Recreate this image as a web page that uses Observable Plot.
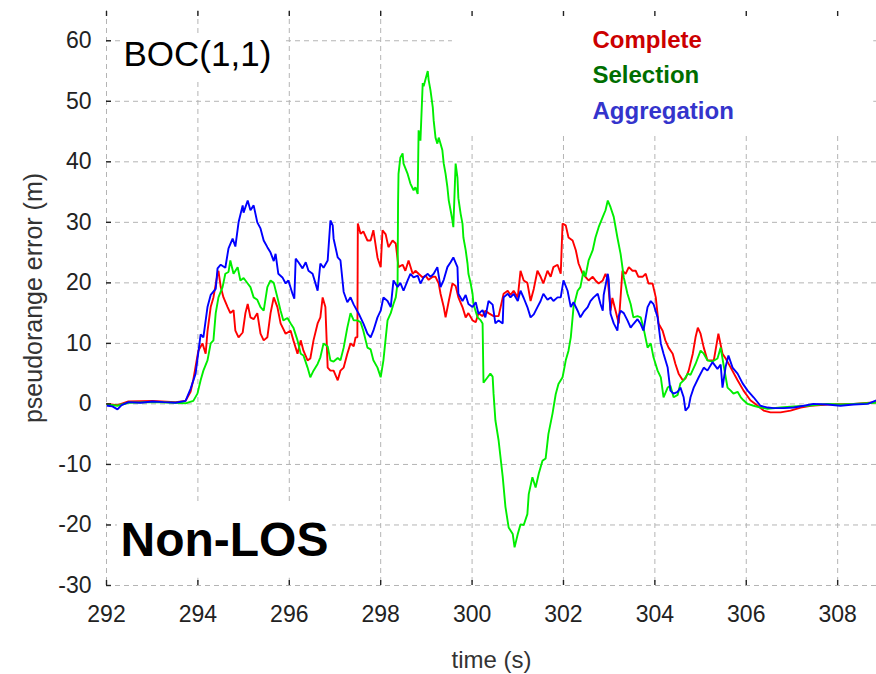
<!DOCTYPE html>
<html>
<head>
<meta charset="utf-8">
<script src="https://cdn.jsdelivr.net/npm/d3@7"></script>
<script src="https://cdn.jsdelivr.net/npm/@observablehq/plot@0.6"></script>
<style>
  html, body { margin: 0; padding: 0; background: #ffffff; }
</style>
</head>
<body>
<div id="chart"></div>
<script>
// ---- data: [time (s), pseudorange error (m)] ----
const complete = [
  [292.02,0],[292.24,-0.2],[292.48,0.4],[293.01,0.5],[293.51,0.3],[293.73,0.5],[293.84,2.0],[293.90,4],
  [294.01,8.8],[294.10,10],[294.17,8.3],[294.21,12],[294.28,16],[294.34,17.6],[294.43,21.5],[294.45,22],
  [294.50,19.3],[294.56,17.6],[294.65,16],[294.71,15],[294.78,15.5],[294.82,12.1],[294.89,11],[294.98,11.8],
  [295.04,15],[295.09,16.5],[295.15,14.3],[295.22,14],[295.30,15],[295.37,11.6],[295.44,10.5],[295.52,11],
  [295.59,15],[295.66,17.6],[295.74,16],[295.81,13.3],[295.92,11.6],[296.03,12.1],[296.09,10.5],[296.18,8.3],
  [296.25,10.5],[296.31,8.8],[296.40,7.2],[296.46,7.5],[296.53,10.5],[296.62,13.3],[296.68,14.3],[296.73,17.6],
  [296.79,16],[296.84,6],[296.90,5.5],[296.97,5.5],[297.06,3.9],[297.12,5.5],[297.19,6],[297.27,8.3],
  [297.34,10],[297.41,9.5],[297.45,11],[297.49,11],[297.50,29.8],[297.56,28.1],[297.62,28.5],[297.71,27],
  [297.78,27],[297.84,28.7],[297.93,24.2],[297.95,23.7],[298.00,22.6],[298.04,28.7],[298.11,28],[298.17,25.9],
  [298.26,27],[298.33,26.5],[298.39,22.6],[298.48,23],[298.54,22],[298.61,23.7],[298.70,21.5],[298.76,22],
  [298.83,21.5],[298.92,20.9],[298.98,21.2],[299.05,20.5],[299.14,21],[299.20,21],[299.27,19.9],[299.31,18.2],
  [299.38,16],[299.42,14.3],[299.49,17],[299.57,19.9],[299.64,19.5],[299.70,17.6],[299.79,16],[299.86,14.3],
  [299.92,15],[300.01,13.8],[300.08,13.5],[300.14,15],[300.23,14.5],[300.29,15.4],[300.36,15],[300.47,14.5],
  [300.58,14.5],[300.69,18.2],[300.78,18.7],[300.84,18],[300.91,18.7],[301.00,17.6],[301.06,22],[301.13,20.4],
  [301.21,20],[301.28,17],[301.35,19],[301.43,22],[301.50,21],[301.56,19.9],[301.65,22],[301.72,21],
  [301.78,22.6],[301.87,23],[301.94,21.5],[301.98,29.8],[302.05,29.5],[302.11,27.5],[302.20,27],[302.27,25.4],
  [302.33,23.2],[302.42,21.5],[302.48,21],[302.55,20.4],[302.64,21],[302.70,20.4],[302.77,19.9],[302.86,20.4],
  [302.92,21.5],[302.97,20.5],[303.03,15.4],[303.07,17.5],[303.14,15.4],[303.21,13.3],[303.29,22],[303.36,21.5],
  [303.43,22.6],[303.51,22],[303.58,22],[303.64,21],[303.73,21],[303.80,21.5],[303.86,19.9],[303.95,19.9],
  [304.02,17.6],[304.08,13.3],[304.17,12.1],[304.23,10.5],[304.30,9.3],[304.39,8.3],[304.45,6.6],[304.52,5],
  [304.61,3.9],[304.67,4.2],[304.74,5.5],[304.83,8.3],[304.89,11],[304.94,12.6],[305.00,11.6],[305.07,9.3],
  [305.15,7.2],[305.22,7.2],[305.29,7.2],[305.39,11.6],[305.48,8.3],[305.55,7.5],[305.66,6],[305.81,3.9],
  [305.94,2.2],[306.09,0.6],[306.25,-0.3],[306.38,-1.1],[306.53,-1.4],[306.75,-1.4],[306.97,-1.1],[307.19,-0.6],
  [307.41,-0.3],[307.78,-0.1],[308.35,0],[308.85,0.3]
];
const selection = [
  [292.02,-0.1],[292.24,-0.3],[292.48,0.2],[293.01,0.3],[293.51,0.2],[293.73,0.1],[293.90,0.5],[293.99,1.7],
  [294.06,3.9],[294.12,5.5],[294.21,7.2],[294.28,10],[294.34,10.5],[294.39,15],[294.45,17.6],[294.54,19.3],
  [294.60,21.5],[294.67,21.8],[294.71,23.7],[294.78,21.5],[294.87,22.6],[294.93,20.4],[295.00,20.8],[295.09,19.9],
  [295.15,19.3],[295.22,17.6],[295.30,17.2],[295.37,16],[295.44,15.4],[295.52,19.3],[295.59,20.4],[295.66,20],
  [295.74,17.6],[295.81,15.4],[295.87,13.8],[295.96,14.2],[296.03,13.3],[296.09,12.6],[296.18,10.5],[296.25,8.3],
  [296.31,8.0],[296.40,6],[296.46,4.4],[296.53,5.5],[296.62,6.6],[296.68,7.7],[296.75,10],[296.84,9.5],
  [296.90,7.2],[296.97,7.0],[297.06,7.6],[297.12,7.2],[297.19,9.3],[297.27,12.6],[297.34,15],[297.41,13.8],
  [297.49,13.8],[297.56,13.5],[297.62,12.1],[297.71,9.3],[297.78,9],[297.84,7.2],[297.93,6],[298.00,4.4],
  [298.06,7.2],[298.15,13.8],[298.22,15],[298.28,16.5],[298.33,17.6],[298.37,20],[298.38,33],[298.39,38],
  [298.43,40.7],[298.48,41.4],[298.50,39.7],[298.59,38],[298.65,36.4],[298.72,35.3],[298.76,35.8],[298.81,34.7],
  [298.83,45.2],[298.87,43.5],[298.92,53],[298.94,52.5],[299.03,55],[299.05,53.5],[299.09,51.8],[299.14,49],
  [299.16,46.8],[299.20,44],[299.24,43],[299.27,44],[299.31,43],[299.35,41.9],[299.38,39.7],[299.42,38],
  [299.46,35.8],[299.49,33.6],[299.53,32],[299.57,30.3],[299.59,29.2],[299.64,39.7],[299.68,37.4],[299.70,34],
  [299.75,31.4],[299.79,29.8],[299.81,27.5],[299.86,25.4],[299.90,23.2],[299.92,21.5],[299.97,19.9],[300.01,18.2],
  [300.03,16.5],[300.12,14.3],[300.19,13.8],[300.23,13.3],[300.25,3.5],[300.34,4.4],[300.40,5],[300.45,4.5],
  [300.47,1.7],[300.51,-2.7],[300.58,-6],[300.67,-12],[300.73,-17],[300.80,-20.4],[300.89,-21.5],[300.93,-23.7],
  [301.00,-21.5],[301.06,-19.9],[301.13,-20],[301.21,-18.2],[301.24,-14.9],[301.32,-12.1],[301.39,-13.8],[301.46,-11.5],
  [301.54,-9.4],[301.61,-9],[301.67,-5],[301.76,-1.6],[301.83,1.6],[301.89,3.3],[301.98,4.4],[302.05,7.2],
  [302.11,8.8],[302.16,11],[302.20,14.3],[302.22,16],[302.31,18.7],[302.37,19.3],[302.44,22],[302.48,21],
  [302.55,23.7],[302.64,25.4],[302.70,27.5],[302.77,29.2],[302.86,30.9],[302.92,32],[302.97,33.6],[303.03,32.5],
  [303.10,30.9],[303.18,27.5],[303.25,24.8],[303.32,20.9],[303.40,18.2],[303.47,16.5],[303.53,14.3],[303.62,14.5],
  [303.69,14.3],[303.75,12.6],[303.84,9.3],[303.91,10],[303.97,7.7],[304.06,5.5],[304.13,4.4],[304.19,1.1],
  [304.28,2.7],[304.34,3.0],[304.41,1.1],[304.50,1.5],[304.56,3.4],[304.63,3.9],[304.72,5],[304.78,4.8],
  [304.89,6.6],[305.00,8.8],[305.07,8.3],[305.15,7.2],[305.26,7.0],[305.37,7.5],[305.44,9.3],[305.50,6.6],
  [305.59,2.7],[305.66,2.2],[305.72,1.7],[305.81,2.0],[305.88,1.1],[305.94,0.6],[306.03,0],[306.16,-0.3],
  [306.31,-0.6],[306.47,-0.8],[306.75,-0.6],[307.04,-0.4],[307.34,-0.3],[307.78,0],[308.06,-0.1],[308.35,0],
  [308.85,0.2]
];
const aggregation = [
  [292.02,-0.3],[292.13,-0.4],[292.24,-0.9],[292.33,-0.2],[292.48,0.3],[292.74,0.2],[293.01,0.4],[293.25,0.3],
  [293.51,0.2],[293.73,0.5],[293.84,2.5],[293.95,5],[294.06,11.5],[294.12,11],[294.21,16],[294.28,18],
  [294.39,19],[294.43,22.4],[294.50,23],[294.60,22.5],[294.67,25.7],[294.76,27.3],[294.82,26],[294.89,30],
  [294.98,32.8],[295.00,31.6],[295.09,33.6],[295.15,32],[295.22,32.8],[295.30,30],[295.37,29],[295.44,27],
  [295.52,25.9],[295.59,25],[295.66,23.6],[295.70,24.8],[295.76,21.5],[295.85,20.9],[295.92,19.9],[295.98,20.4],
  [296.07,18.2],[296.11,17.4],[296.14,24],[296.20,23.4],[296.29,22.4],[296.36,23.4],[296.42,22.0],[296.51,21.5],
  [296.57,20],[296.62,18.7],[296.68,23.2],[296.75,22.5],[296.84,23.7],[296.90,30.3],[296.95,29.5],[296.97,27.3],
  [297.06,24.2],[297.12,23.7],[297.19,18.5],[297.27,16.8],[297.34,17.6],[297.41,16.4],[297.52,14.9],[297.62,13.3],
  [297.71,11.6],[297.78,11],[297.84,12.1],[297.93,14.3],[298.00,15.4],[298.06,17.6],[298.15,17],[298.22,16],
  [298.28,20.4],[298.37,19.3],[298.43,20],[298.50,18.7],[298.59,20.4],[298.65,21.5],[298.72,20.9],[298.81,21.2],
  [298.87,19.9],[298.94,20.9],[299.03,21.5],[299.09,21.0],[299.16,21.5],[299.24,22.6],[299.31,19.3],[299.38,20.5],
  [299.46,22.6],[299.53,23.4],[299.59,24.2],[299.68,22.6],[299.70,18.2],[299.79,17],[299.86,18],[299.92,16.5],
  [300.01,16],[300.08,16.8],[300.14,14.9],[300.23,15.5],[300.29,14.3],[300.36,17],[300.45,16.4],[300.51,13.3],
  [300.58,13.8],[300.67,13.3],[300.69,17.6],[300.78,18.2],[300.84,17.6],[300.91,18.2],[301.00,17],[301.06,18.7],
  [301.13,17.5],[301.21,16],[301.28,14.3],[301.35,14.8],[301.43,16],[301.50,17],[301.56,18.2],[301.65,17.2],
  [301.72,17.6],[301.78,17],[301.87,17.6],[301.94,17.6],[302.00,20.4],[302.09,18.7],[302.16,16],[302.22,16.8],
  [302.31,15.4],[302.37,14.3],[302.44,15.2],[302.53,16],[302.59,17],[302.66,17.6],[302.75,18.2],[302.81,16.5],
  [302.86,15.4],[302.88,18],[302.97,21.5],[302.99,20.5],[303.03,14.9],[303.10,13.3],[303.18,12.1],[303.21,14.5],
  [303.25,15.4],[303.32,15],[303.40,13.8],[303.47,12.6],[303.53,13.2],[303.62,14],[303.69,13.2],[303.75,12.1],
  [303.84,16],[303.91,17],[303.97,16.5],[304.06,14.3],[304.13,10],[304.19,8.3],[304.28,6],[304.34,2.2],
  [304.41,1.7],[304.50,2.0],[304.56,2.7],[304.63,1.1],[304.67,-1.1],[304.74,-0.5],[304.78,1.1],[304.85,2.7],
  [304.96,4.4],[305.07,6],[305.15,5.5],[305.26,6.9],[305.37,5.8],[305.44,6.5],[305.48,2.7],[305.55,6.2],
  [305.61,8],[305.70,6],[305.81,5],[305.92,3.4],[306.03,2.2],[306.16,1.1],[306.31,-0.3],[306.47,-0.6],
  [306.60,-0.7],[306.82,-0.7],[307.04,-0.6],[307.26,-0.3],[307.47,0],[307.78,-0.1],[308.06,-0.3],[308.35,-0.1],
  [308.66,0],[308.85,0.6]
];

const seriesNames = ["Complete", "Selection", "Aggregation"];
const seriesData = [complete, selection, aggregation];
const lineColors = ["#ff0000", "#00ee00", "#0000ff"];
const legendColors = ["#cc0000", "#006e00", "#3434cc"];
const xTicks = [292, 294, 296, 298, 300, 302, 304, 306, 308];
const yTicks = [-30, -20, -10, 0, 10, 20, 30, 40, 50, 60];
const xDomain = [292, 308.85];
const yDomain = [-30, 65];
const titleText = "BOC(1,1)";
const conditionText = "Non-LOS";
const xLabel = "time (s)";
const yLabel = "pseudorange error (m)";
// white backgrounds behind the annotations (in data units), hiding the grid there
const whiteBoxes = [
  {x1: 292.35, x2: 295.87, y1: 53.5, y2: 60.6},
  {x1: 299.57, x2: 308.79, y1: 44.4, y2: 65},
  {x1: 292.24, x2: 296.95, y1: -28.8, y2: -16.7}
];

const rows = seriesNames.flatMap((name, i) =>
  seriesData[i].map(([t, v]) => ({t, v, name}))
);

const gridStyle = {stroke: "#b4b4b4", strokeOpacity: 1, strokeWidth: 1, strokeDasharray: "5,4"};
const font = "'Liberation Sans', Arial, Helvetica, sans-serif";
const plainNumber = d => String(d);

const chart = Plot.plot({
  width: 876,
  height: 674,
  marginLeft: 106,
  marginRight: 0,
  marginTop: 10,
  marginBottom: 89,
  style: {fontFamily: font, background: "#ffffff", overflow: "visible"},
  x: {domain: xDomain},
  y: {domain: yDomain},
  color: {domain: seriesNames, range: lineColors},
  marks: [
    Plot.gridX({ticks: xTicks, ...gridStyle}),
    Plot.gridY({ticks: yTicks, ...gridStyle}),
    Plot.rect(whiteBoxes, {x1: "x1", x2: "x2", y1: "y1", y2: "y2", fill: "#ffffff"}),
    Plot.line(rows, {x: "t", y: "v", z: "name", stroke: "name", strokeWidth: 1.9, strokeLinejoin: "miter"}),
    Plot.axisX({anchor: "bottom", ticks: xTicks, tickFormat: plainNumber, tickSize: -5, tickPadding: 25,
      line: true, label: null, fontSize: 23, color: "#222", strokeWidth: 1.4}),
    Plot.axisX({anchor: "top", ticks: xTicks, tickSize: -5, tickFormat: () => "", line: true, label: null,
      color: "#222", strokeWidth: 1.4}),
    Plot.axisY({anchor: "left", ticks: yTicks, tickFormat: plainNumber, tickSize: -5, tickPadding: 20,
      line: true, label: null, fontSize: 23, color: "#222", strokeWidth: 1.4}),
    Plot.text([xLabel], {frameAnchor: "bottom", textAnchor: "middle", dy: 82, lineAnchor: "bottom",
      fontSize: 24, fill: "#333"}),
    Plot.text([yLabel], {frameAnchor: "left", textAnchor: "middle", rotate: -90, dx: -65, lineAnchor: "bottom",
      fontSize: 25, fill: "#333"}),
    Plot.text([titleText], {frameAnchor: "top-left", textAnchor: "start", lineAnchor: "bottom", dx: 17, dy: 55,
      fontSize: 35, fill: "#000"}),
    Plot.text([conditionText], {frameAnchor: "bottom-left", textAnchor: "start", lineAnchor: "bottom", dx: 14, dy: -30,
      fontSize: 48, fontWeight: "bold", fill: "#000"}),
    Plot.text([seriesNames[0]], {frameAnchor: "top-right", textAnchor: "start", lineAnchor: "bottom", dx: -284, dy: 37,
      fontSize: 24, fontWeight: "bold", fill: legendColors[0]}),
    Plot.text([seriesNames[1]], {frameAnchor: "top-right", textAnchor: "start", lineAnchor: "bottom", dx: -284, dy: 72,
      fontSize: 24, fontWeight: "bold", fill: legendColors[1]}),
    Plot.text([seriesNames[2]], {frameAnchor: "top-right", textAnchor: "start", lineAnchor: "bottom", dx: -284, dy: 108,
      fontSize: 24, fontWeight: "bold", fill: legendColors[2]})
  ]
});
document.getElementById("chart").appendChild(chart);
</script>
</body>
</html>
